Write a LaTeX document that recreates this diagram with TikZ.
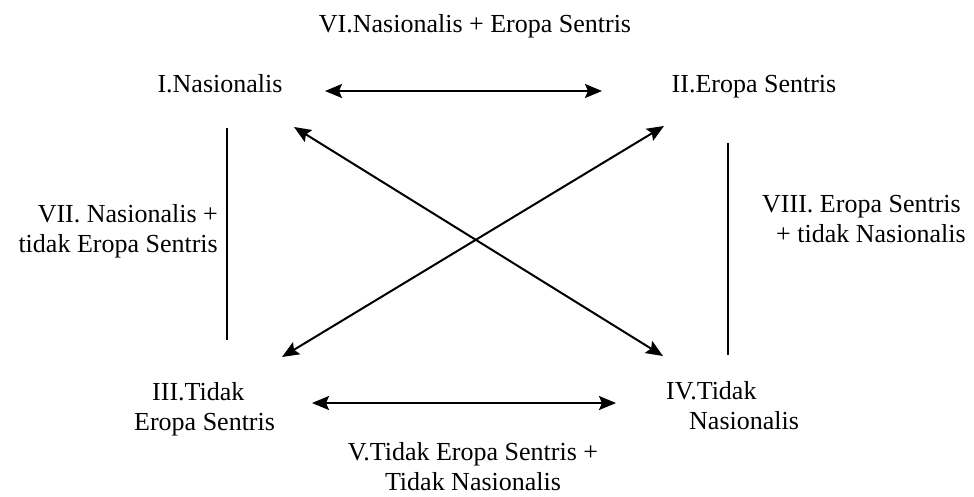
\documentclass[tikz,border=0pt]{standalone}
\usepackage{fontspec}
\setmainfont{Liberation Serif}
\usetikzlibrary{arrows.meta}
\begin{document}
\begin{tikzpicture}[x=1pt,y=-1pt,
  lbl/.style={inner sep=0pt,font=\fontsize{26}{30}\selectfont},
  conn/.style={line width=2pt},
  dbl/.style={conn,{Stealth[length=17pt,width=14pt,inset=3pt]}-{Stealth[length=17pt,width=14pt,inset=3pt]}}]
\useasboundingbox (0,0) rectangle (974,496);
\node[lbl,anchor=base] (n6) at (475,32) {VI.Nasionalis + Eropa Sentris};
\node[lbl,anchor=base] (n1) at (220,92) {I.Nasionalis};
\node[lbl,anchor=base] (n2) at (754,92) {II.Eropa Sentris};
\node[lbl,align=right,anchor=base east] (n7) at (218,252) {VII. Nasionalis +\\tidak Eropa Sentris};
\node[lbl,align=left,anchor=base west] (n8) at (762,242) {VIII. Eropa Sentris\\\hspace*{14pt}+ tidak Nasionalis};
\node[lbl,align=left,anchor=base west] (n3) at (134,430) {\hspace*{18pt}III.Tidak\\Eropa Sentris};
\node[lbl,align=left,anchor=base west] (n4) at (666,429) {IV.Tidak\\\hspace*{23pt}Nasionalis};
\node[lbl,align=center,anchor=base] (n5) at (473,490) {V.Tidak Eropa Sentris +\\Tidak Nasionalis};
\coordinate (t1) at (325,91);
\coordinate (t2) at (602,91);
\coordinate (b1) at (312,403);
\coordinate (b2) at (616,403);
\coordinate (d1a) at (294,127);
\coordinate (d1b) at (663,356);
\coordinate (d2a) at (282,357);
\coordinate (d2b) at (664,126);
\coordinate (l1) at (227,128);
\coordinate (l2) at (227,340);
\coordinate (r1) at (728,143);
\coordinate (r2) at (728,355);
\draw[dbl] (t1) -- (t2);
\draw[dbl] (b1) -- (b2);
\draw[dbl] (d1a) -- (d1b);
\draw[dbl] (d2a) -- (d2b);
\draw[conn] (l1) -- (l2);
\draw[conn] (r1) -- (r2);
\end{tikzpicture}
\end{document}
